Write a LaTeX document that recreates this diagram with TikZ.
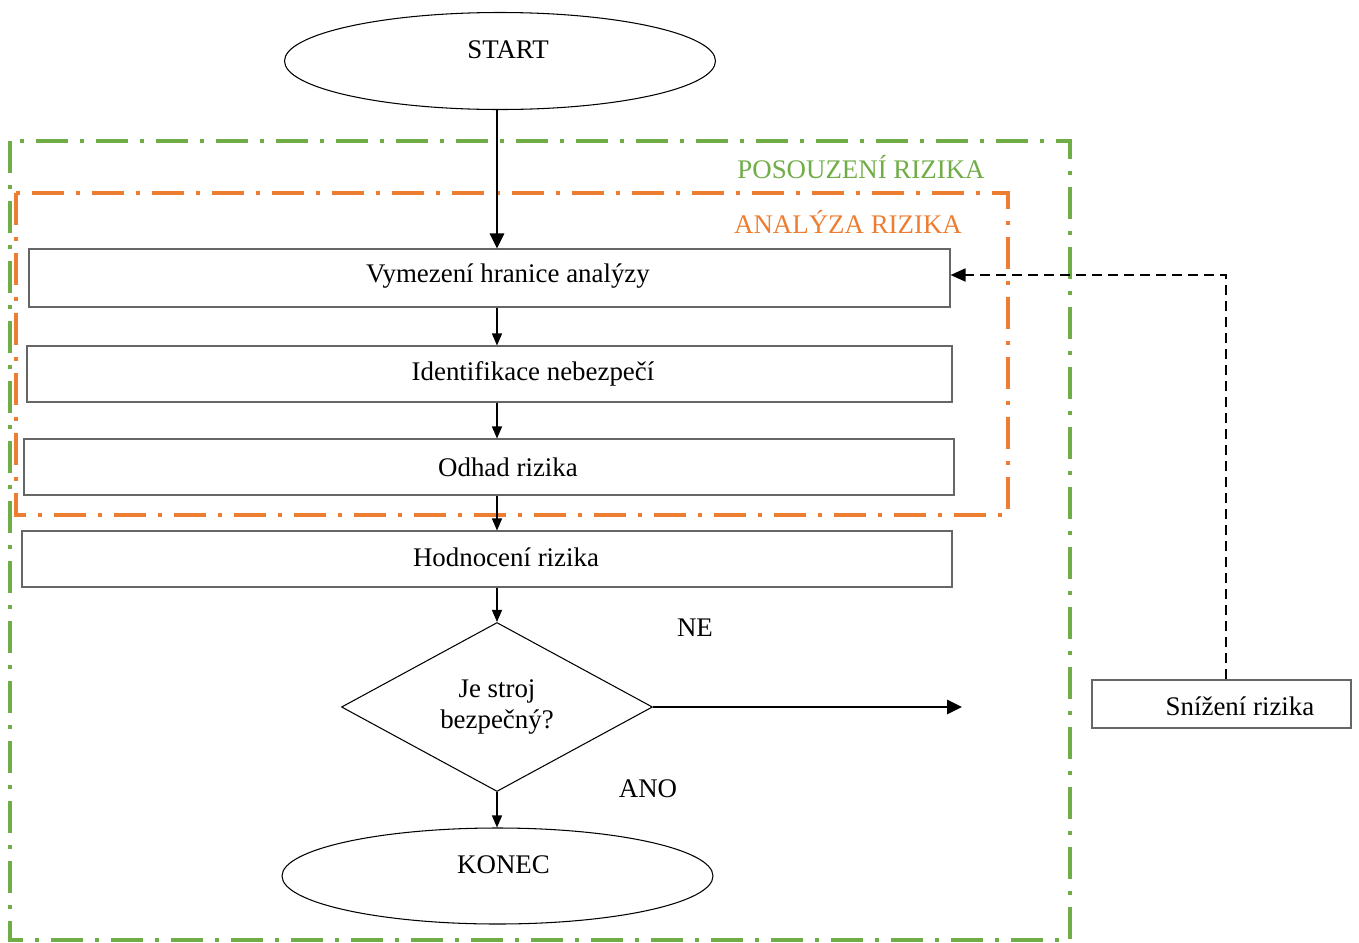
\documentclass[tikz,border=0pt]{standalone}
\usepackage{fontspec}
\setmainfont{Liberation Serif}
\usepackage{xcolor}
\usepackage{tikz}
\usetikzlibrary{
    arrows.meta,
    shapes.geometric
}
\definecolor{frameGreen}{HTML}{70AD47}
\definecolor{frameOrange}{HTML}{ED7D31}
\tikzset{
    terminal/.style={
        ellipse, draw, line width=0.6pt,
        minimum width=8.62cm, minimum height=1.94cm
    },
    stepbox/.style={
        rectangle, draw=black!60, line width=0.6pt,
        minimum height=1.12cm, align=center
    },
    decision/.style={
        diamond, draw, line width=0.6pt, aspect=1.84, inner sep=0pt,
        minimum width=6.22cm, minimum height=3.38cm, align=center
    },
    arrow/.style={
        -{Triangle[length=0.24cm, width=0.2cm]}, line width=0.7pt, draw=black
    },
    mainarrow/.style={
        -{Triangle[length=0.3cm, width=0.28cm]}, line width=1.6pt, draw=black
    },
    feedback/.style={
        -{Triangle[length=0.3cm, width=0.26cm]}, line width=1pt, draw=black,
        dash pattern=on 0.2cm off 0.12cm
    },
    zone/.style={
        line width=1.8pt,
        dash pattern=on 0.64cm off 0.24cm on 0.08cm off 0.24cm
    }
}

\begin{document}
\begin{tikzpicture}[
        font=\fontsize{15.3}{18}\selectfont,
        steptext/.style={xshift=#1},
        steptext/.default=0.38cm
    ]
    \useasboundingbox (0,0) rectangle (27.18,-18.84);

    % ZONES
    \draw[zone, draw=frameGreen] (0.2,-2.82) rectangle (21.4,-18.8);
    \draw[zone, draw=frameOrange] (0.32,-3.86) rectangle (20.16,-10.3);
    \node[text=frameGreen] (posouzeni) at (17.22,-3.34) {POSOUZENÍ RIZIKA};
    \node[text=frameOrange] (analyza) at (16.96,-4.44) {ANALÝZA RIZIKA};

    % START
    \node[terminal, label={[yshift=0.22cm, xshift=0.16cm]center:START}] (start) at (10.0,-1.22) {};

    % STEPS
    \node[stepbox, minimum width=18.42cm, minimum height=1.16cm,
          label={[steptext=0.37cm, yshift=0.04cm]center:Vymezení hranice analýzy}] (vymezeni) at (9.79,-5.56) {};
    \node[stepbox, minimum width=18.5cm,
          label={[steptext=0.87cm]center:Identifikace nebezpečí}] (identifikace) at (9.79,-7.48) {};
    \node[stepbox, minimum width=18.6cm,
          label={[steptext]center:Odhad rizika}] (odhad) at (9.78,-9.34) {};
    \node[stepbox, minimum width=18.6cm,
          label={[steptext, yshift=0.04cm]center:Hodnocení rizika}] (hodnoceni) at (9.74,-11.18) {};

    % DECISION
    \node[decision] (bezpecny) at (9.94,-14.14) {Je stroj\\bezpečný?};
    \node (ne) at (13.9,-12.56) {NE};
    \node (ano) at (12.96,-15.78) {ANO};

    % END
    \node[terminal, minimum height=1.92cm, label={[yshift=0.22cm, xshift=0.12cm]center:KONEC}] (konec) at (9.95,-17.52) {};

    % RISK REDUCTION
    \node[stepbox, minimum width=5.18cm, minimum height=0.96cm,
          label={[steptext=0.37cm, yshift=-0.04cm]center:Snížení rizika}] (snizeni) at (24.43,-14.08) {};
    \coordinate (ne_end) at (19.24,-14.1);
    \coordinate (fb_corner) at (24.52,-5.5);

    % Connections
    \draw[mainarrow] (start.south -| bezpecny) -- (vymezeni.north -| bezpecny);
    \draw[arrow] (vymezeni.south -| bezpecny) -- (identifikace.north -| bezpecny);
    \draw[arrow] (identifikace.south -| bezpecny) -- (odhad.north -| bezpecny);
    \draw[arrow] (odhad.south -| bezpecny) -- (hodnoceni.north -| bezpecny);
    \draw[arrow] (hodnoceni.south -| bezpecny) -- (bezpecny.north);
    \draw[arrow] (bezpecny.south) -- (konec.north -| bezpecny);
    \draw[mainarrow] (bezpecny.east) -- (bezpecny.east -| ne_end);

    % Feedback loop
    \draw[feedback] (fb_corner |- snizeni.north) -- (fb_corner) -- (vymezeni.east |- fb_corner);

\end{tikzpicture}
\end{document}
